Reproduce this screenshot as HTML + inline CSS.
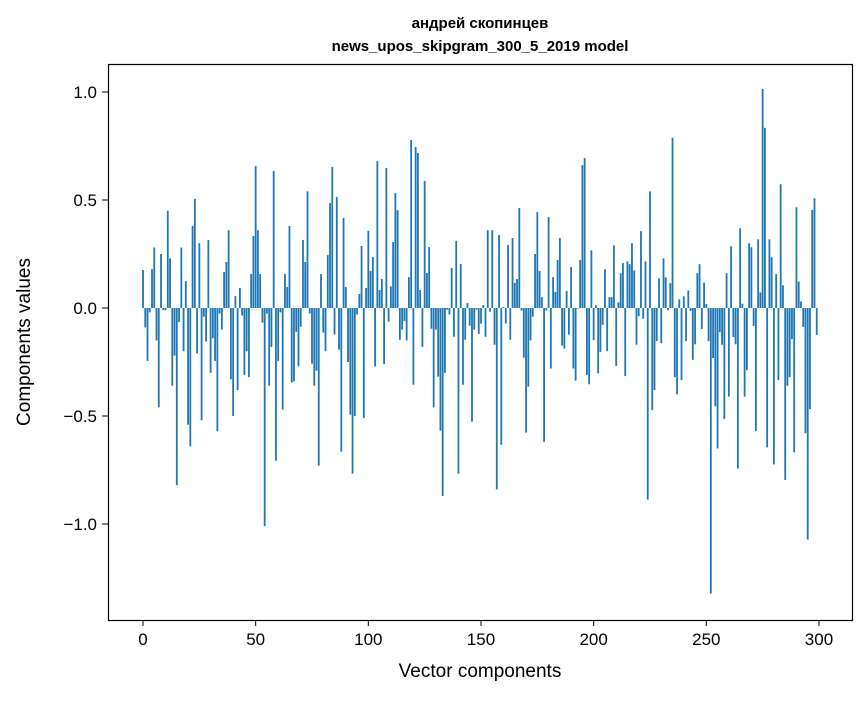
<!DOCTYPE html>
<html><head><meta charset="utf-8"><style>
body{margin:0;background:#fff;}
svg text{font-family:"Liberation Sans","DejaVu Sans",sans-serif;fill:#000;}
</style></head><body>
<svg id="chart" width="867" height="696" xmlns="http://www.w3.org/2000/svg">
<rect width="867" height="696" fill="#fff"/>
<text x="480" y="28" text-anchor="middle" font-size="15" font-weight="bold">андрей скопинцев</text>
<text x="480" y="51" text-anchor="middle" font-size="15" font-weight="bold">news_upos_skipgram_300_5_2019 model</text>
<g id="bars"></g>
<g id="axes"></g>
<rect x="108.5" y="64.5" width="744" height="556" fill="none" stroke="#000" stroke-width="1.2"/>
<text x="480" y="677" text-anchor="middle" font-size="19">Vector components</text>
<text transform="translate(30,342) rotate(-90)" text-anchor="middle" font-size="19">Components values</text>
</svg>
<script>
const values = [0.176,-0.09,-0.245,-0.02,0.18,0.28,-0.15,-0.46,0.25,-0.01,-0.01,0.45,0.23,-0.36,-0.22,-0.82,-0.065,0.28,-0.2,0.125,-0.54,-0.64,0.38,0.505,-0.21,0.3,-0.52,-0.04,-0.155,0.315,-0.3,-0.14,-0.245,-0.57,-0.026,-0.1,0.167,0.213,0.36,-0.33,-0.5,0.055,-0.38,0.093,-0.035,-0.31,-0.2,-0.32,0.157,0.333,
0.657,0.36,0.157,-0.068,-1.01,-0.026,-0.36,-0.18,0.634,-0.707,-0.245,-0.02,-0.47,0.157,0.097,0.38,-0.345,-0.34,-0.11,-0.27,-0.087,0.315,0.213,0.54,-0.026,-0.258,-0.36,-0.29,-0.73,0.157,-0.114,-0.2,0.245,0.486,0.653,-0.123,0.514,-0.193,-0.665,0.417,0.097,-0.25,-0.494,-0.767,-0.5,-0.03,0.065,0.287,-0.51,0.093,
0.357,0.171,0.236,-0.27,0.68,0.083,0.134,-0.26,0.648,-0.063,0.1,0.305,0.532,0.453,-0.147,-0.1,-0.06,-0.15,0.143,0.778,-0.355,0.745,0.718,0.083,-0.18,0.588,0.162,0.282,-0.096,-0.46,-0.1,-0.318,-0.568,-0.87,-0.3,-0.008,-0.03,0.185,-0.133,0.31,-0.767,0.204,-0.355,-0.147,0.023,-0.082,-0.526,-0.1,-0.008,-0.12,
-0.072,0.014,-0.133,0.36,-0.017,0.36,-0.17,-0.84,0.338,-0.633,0.005,-0.072,0.292,-0.147,0.324,0.116,0.134,0.463,-0.012,-0.23,-0.577,-0.364,-0.15,-0.04,0.25,0.444,0.171,0.05,-0.62,-0.012,0.421,-0.28,0.143,0.074,0.222,0.324,-0.174,-0.188,0.079,-0.123,0.19,-0.28,-0.336,-0.003,0.222,0.662,0.694,-0.31,-0.353,0.267,
-0.149,0.013,-0.302,-0.204,-0.078,0.179,-0.2,0.05,0.05,0.29,-0.268,0.026,0.161,0.208,-0.315,0.216,0.203,0.3,0.174,-0.17,-0.038,0.356,-0.05,0.216,-0.887,0.54,-0.473,-0.38,-0.153,0.137,-0.163,0.23,0.142,-0.011,0.115,0.788,-0.32,-0.4,0.04,-0.334,0.054,-0.153,0.081,-0.014,-0.24,-0.168,0.161,0.203,-0.097,0.118,
0.018,-0.153,-1.322,-0.232,-0.455,-0.65,-0.112,-0.17,-0.514,0.161,-0.41,0.286,-0.134,-0.168,-0.743,0.369,0.02,-0.41,-0.288,0.3,0.281,-0.083,-0.57,0.318,0.072,1.014,0.834,-0.645,0.318,0.235,-0.724,0.157,-0.334,0.573,0.105,-0.796,-0.36,-0.32,-0.144,-0.668,0.466,0.123,0.03,-0.088,-0.58,-1.072,-0.468,0.454,0.508,-0.125];
const xTicks = [0,50,100,150,200,250,300];
const yTicks = [1.0,0.5,0.0,-0.5,-1.0];
const yTickLabels = ["1.0","0.5","0.0","\u22120.5","\u22121.0"];

const X = v => 143 + v * 2.2533;
const Y = v => 308 - v * 216;
const NS = "http://www.w3.org/2000/svg";
const bars = document.getElementById('bars');
values.forEach((v, i) => {
  const r = document.createElementNS(NS, 'rect');
  
  
  const y0 = Math.min(Y(v), Y(0));
  r.setAttribute('x', X(i - 0.4));
  r.setAttribute('width', 0.8 * 2.2533);
  r.setAttribute('y', y0);
  r.setAttribute('height', Math.abs(Y(v) - Y(0)));
  r.setAttribute('fill', '#1f77b4');
  bars.appendChild(r);
});
const axes = document.getElementById('axes');
xTicks.forEach(t => {
  const l = document.createElementNS(NS, 'line');
  
  
  l.setAttribute('x1', X(t)); l.setAttribute('x2', X(t));
  l.setAttribute('y1', 620); l.setAttribute('y2', 626);
  l.setAttribute('stroke', '#000');
  axes.appendChild(l);
  const tx = document.createElementNS(NS, 'text');
  
  
  tx.setAttribute('x', X(t)); tx.setAttribute('y', 645);
  tx.setAttribute('text-anchor', 'middle'); tx.setAttribute('font-size', '17');
  tx.textContent = t;
  axes.appendChild(tx);
});
yTicks.forEach((t, k) => {
  const l = document.createElementNS(NS, 'line');
  
  
  l.setAttribute('x1', 102); l.setAttribute('x2', 108);
  l.setAttribute('y1', Y(t)); l.setAttribute('y2', Y(t));
  l.setAttribute('stroke', '#000');
  axes.appendChild(l);
  const tx = document.createElementNS(NS, 'text');
  
  
  tx.setAttribute('x', 97); tx.setAttribute('y', Y(t) + 6);
  tx.setAttribute('text-anchor', 'end'); tx.setAttribute('font-size', '17');
  tx.textContent = yTickLabels[k];
  axes.appendChild(tx);
});
</script>
</body></html>
